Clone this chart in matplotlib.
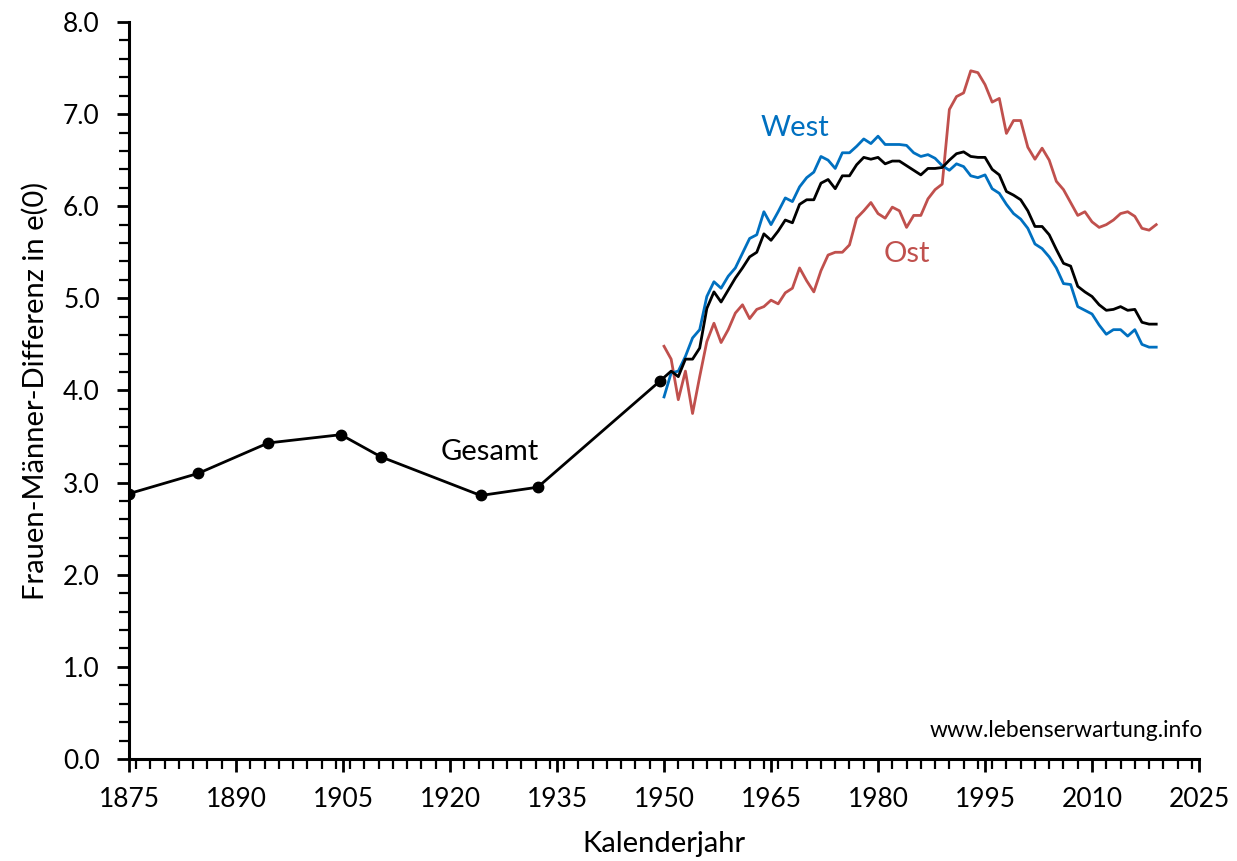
import numpy as np
import matplotlib.pyplot as plt
from matplotlib.ticker import MultipleLocator

# Gesamt: historische Sterbetafeln (Punkte) + jaehrliche Werte ab 1951
hist_years = [1875, 1884.7, 1894.5, 1904.7, 1910.3, 1924.3, 1932.3, 1949.4]
hist_diff = [2.88, 3.10, 3.43, 3.52, 3.28, 2.86, 2.95, 4.10]

gesamt_years = list(range(1951, 2020))
gesamt_diff = [4.21, 4.15, 4.34, 4.34, 4.46, 4.89, 5.07, 4.96, 5.09,
               5.22, 5.33, 5.45, 5.50, 5.70, 5.63, 5.73, 5.85, 5.82, 6.02,
               6.07, 6.07, 6.25, 6.29, 6.19, 6.33, 6.33, 6.45, 6.53, 6.51,
               6.53, 6.46, 6.49, 6.49, 6.44, 6.39, 6.34, 6.41, 6.41, 6.42,
               6.50, 6.57, 6.59, 6.54, 6.53, 6.53, 6.40, 6.34, 6.16, 6.12,
               6.07, 5.95, 5.78, 5.78, 5.69, 5.53, 5.38, 5.35, 5.13, 5.07,
               5.02, 4.93, 4.87, 4.88, 4.91, 4.87, 4.88, 4.74, 4.72, 4.72]

years = list(range(1950, 2020))
west_diff = [3.93, 4.19, 4.21, 4.37, 4.57, 4.66, 5.02, 5.18, 5.11, 5.24,
             5.33, 5.49, 5.65, 5.69, 5.94, 5.80, 5.94, 6.09, 6.05, 6.21,
             6.31, 6.37, 6.54, 6.50, 6.41, 6.58, 6.58, 6.65, 6.73, 6.68,
             6.76, 6.67, 6.67, 6.67, 6.66, 6.58, 6.54, 6.56, 6.52, 6.44,
             6.39, 6.46, 6.43, 6.33, 6.31, 6.34, 6.19, 6.14, 6.02, 5.92,
             5.86, 5.76, 5.59, 5.54, 5.45, 5.33, 5.16, 5.15, 4.91, 4.87,
             4.83, 4.71, 4.61, 4.66, 4.66, 4.59, 4.66, 4.50, 4.47, 4.47]
ost_diff = [4.48, 4.34, 3.90, 4.21, 3.75, 4.15, 4.53, 4.73, 4.52, 4.66,
            4.84, 4.93, 4.78, 4.88, 4.91, 4.98, 4.94, 5.06, 5.11, 5.33,
            5.19, 5.07, 5.30, 5.47, 5.50, 5.50, 5.58, 5.87, 5.95, 6.04,
            5.92, 5.87, 5.99, 5.95, 5.77, 5.90, 5.90, 6.08, 6.18, 6.24,
            7.05, 7.19, 7.23, 7.47, 7.45, 7.32, 7.13, 7.17, 6.79, 6.93,
            6.93, 6.64, 6.51, 6.63, 6.50, 6.27, 6.18, 6.04, 5.90, 5.94,
            5.83, 5.77, 5.80, 5.85, 5.92, 5.94, 5.89, 5.76, 5.74, 5.80]

blue = '#0070C0'
red = '#C0504D'

plt.rcParams['font.family'] = ['Lato', 'DejaVu Sans']

fig = plt.figure(figsize=(12.37, 8.61), dpi=100)
ax = fig.add_axes([0.1043, 0.1185, 0.865, 0.856])

ax.plot(years, ost_diff, color=red, lw=2, zorder=2)
ax.plot(years, west_diff, color=blue, lw=2, zorder=3)
ax.plot(hist_years + gesamt_years, hist_diff + gesamt_diff, color='black',
        lw=2, marker='o', markersize=7.5, markevery=list(range(len(hist_years))),
        zorder=4)

ax.text(1968.4, 6.85, 'West', color=blue, fontsize=21, ha='center', va='center')
ax.text(1984.1, 5.48, 'Ost', color=red, fontsize=21, ha='center', va='center')
ax.text(1925.6, 3.33, 'Gesamt', color='black', fontsize=21, ha='center', va='center')
ax.text(1.004, 0.039, 'www.lebenserwartung.info', transform=ax.transAxes,
        fontsize=16.5, ha='right', va='center')

ax.set_xlim(1875, 2025)
ax.set_ylim(0, 8)
ax.xaxis.set_major_locator(MultipleLocator(15))
ax.xaxis.set_minor_locator(MultipleLocator(2))
ax.yaxis.set_major_locator(MultipleLocator(1))
ax.yaxis.set_minor_locator(MultipleLocator(0.2))
ax.yaxis.set_major_formatter(plt.FormatStrFormatter('%.1f'))

for s in ['top', 'right']:
    ax.spines[s].set_visible(False)
for s in ['left', 'bottom']:
    ax.spines[s].set_linewidth(2.2)

ax.tick_params(axis='both', which='major', labelsize=19, width=2, length=9)
ax.tick_params(axis='both', which='minor', width=1.6, length=7)
ax.tick_params(axis='x', which='major', pad=11)
ax.tick_params(axis='y', which='major', pad=12)

ax.set_xlabel('Kalenderjahr', fontsize=21, labelpad=14)
ax.set_ylabel('Frauen-Männer-Differenz in e(0)', fontsize=21, labelpad=10)

fig.savefig('out.png', dpi=100)
